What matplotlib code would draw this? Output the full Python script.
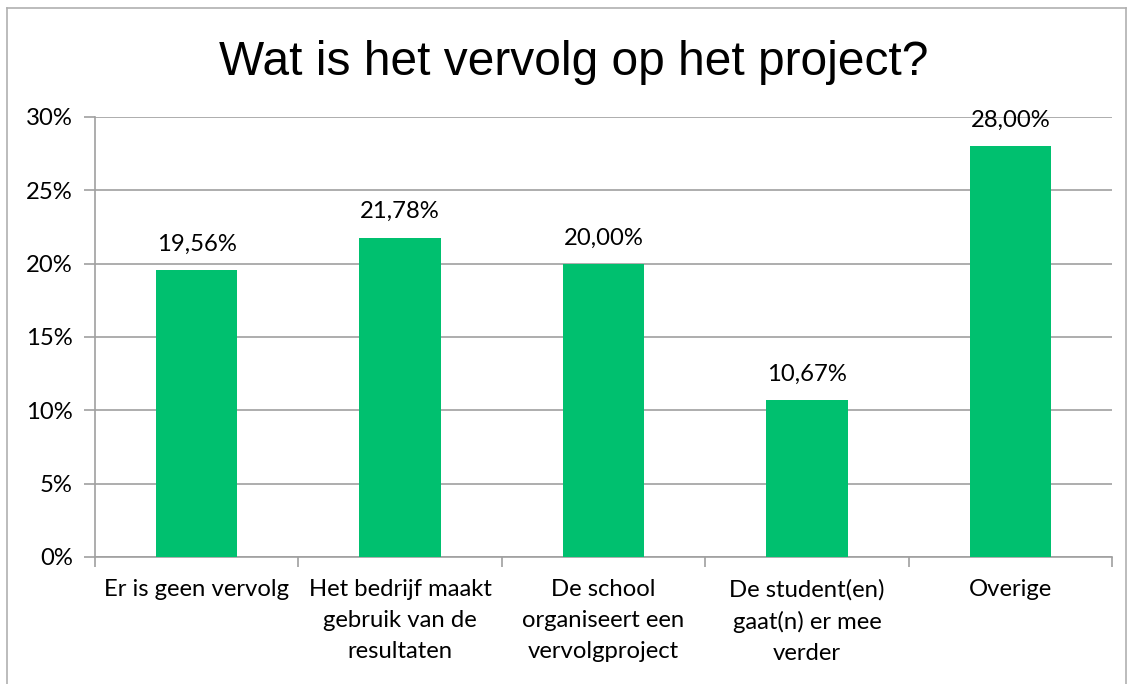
import matplotlib.pyplot as plt
import numpy as np
from matplotlib.lines import Line2D
from matplotlib.ticker import FixedLocator, FuncFormatter

categories = [
    "Er is geen vervolg",
    "Het bedrijf maakt\ngebruik van de\nresultaten",
    "De school\norganiseert een\nvervolgproject",
    "De student(en)\ngaat(n) er mee\nverder",
    "Overige",
]
values = [19.56, 21.78, 20.00, 10.67, 28.00]
y_ticks = [0, 5, 10, 15, 20, 25, 30]

GREEN = "#00c06f"
GRID = "#a0a0a0"
BODY_FONT = ["Lato", "DejaVu Sans"]
BODY_SIZE = 17.2


def pct_label(v):
    return f"{v:.2f}%".replace(".", ",")


def main():
    fig = plt.figure(figsize=(11.33, 6.84), dpi=100)
    ax = fig.add_axes([0.0838, 0.1857, 0.8977, 0.6433])

    x = np.arange(len(categories))
    bars = ax.bar(x, values, width=0.4, color=GREEN, zorder=3)

    ax.set_xlim(-0.5, len(categories) - 0.5)
    ax.set_ylim(0, 30)
    ax.yaxis.set_major_locator(FixedLocator(y_ticks))
    ax.yaxis.set_major_formatter(FuncFormatter(lambda v, p: f"{v:.0f}%"))
    ax.grid(axis="y", color=GRID, linewidth=1.2, zorder=0)

    for side in ("top", "right"):
        ax.spines[side].set_visible(False)
    for side in ("left", "bottom"):
        ax.spines[side].set_color(GRID)
        ax.spines[side].set_linewidth(1.2)

    ax.set_xticks(x)
    ax.set_xticklabels(categories, fontfamily=BODY_FONT, fontsize=BODY_SIZE,
                       linespacing=1.58, va="top")
    ax.tick_params(axis="x", which="major", length=0, pad=16)
    ax.set_xticks(np.arange(len(categories) + 1) - 0.5, minor=True)
    ax.tick_params(axis="x", which="minor", length=7, color=GRID, width=1.2)
    ax.tick_params(axis="y", length=8, color=GRID, width=1.2, pad=8,
                   labelsize=BODY_SIZE)
    for lbl in ax.get_yticklabels():
        lbl.set_fontfamily(BODY_FONT)

    for bar, v in zip(bars, values):
        ax.annotate(pct_label(v), (bar.get_x() + bar.get_width() / 2, v),
                    xytext=(0, 11), textcoords="offset points",
                    ha="center", va="bottom", fontsize=BODY_SIZE,
                    fontfamily=BODY_FONT, zorder=4)

    fig.text(574 / 1133, 0.909, "Wat is het vervolg op het project?",
             ha="center", va="center", fontsize=34.5,
             fontfamily=["Liberation Sans", "DejaVu Sans"])

    # chart-area border
    x0, x1 = 7 / 1133, 1126 / 1133
    y_top = 1 - 8 / 684
    for xs, ys in (([x0, x0], [0, y_top]), ([x0, x1], [y_top, y_top]),
                   ([x1, x1], [y_top, 0])):
        fig.add_artist(Line2D(xs, ys, transform=fig.transFigure,
                              color="#b0b0b0", linewidth=1.2))

    fig.savefig("out.png", dpi=100)


if __name__ == "__main__":
    main()
